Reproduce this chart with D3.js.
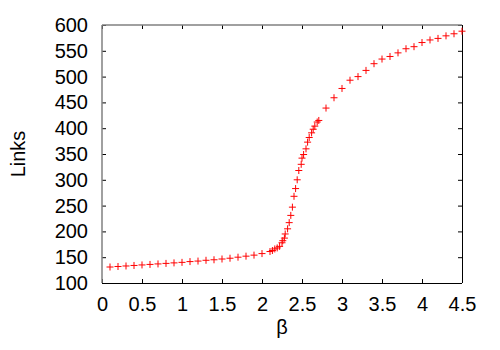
<!DOCTYPE html>
<html>
<head>
<meta charset="utf-8">
<script src="https://cdn.jsdelivr.net/npm/d3@7"></script>
<style>
  body { margin: 0; background: #fff; }
  svg { display: block; }
  text { font-family: "Liberation Sans", Arial, sans-serif; fill: #000; }
</style>
</head>
<body>
<svg width="500" height="350"></svg>
<script>
// beta values and link counts
const beta = [
    0.1, 0.2, 0.3, 0.4, 0.5, 0.6, 0.7, 0.8, 0.9, 1.0,
    1.1, 1.2, 1.3, 1.4, 1.5, 1.6, 1.7, 1.8, 1.9, 2.0,
    2.10, 2.13, 2.16, 2.19, 2.22, 2.25, 2.26, 2.28, 2.29, 2.32,
    2.34, 2.36, 2.38, 2.40, 2.42, 2.44, 2.46, 2.49, 2.50, 2.52,
    2.55, 2.57, 2.59, 2.62, 2.64, 2.66, 2.69, 2.71,
    2.8, 2.9, 3.0, 3.1, 3.2, 3.3, 3.4, 3.5, 3.6, 3.7,
    3.8, 3.9, 4.0, 4.1, 4.2, 4.3, 4.4, 4.5
];
const links = [
    131, 132, 133, 134, 135, 136, 137, 138, 139, 140,
    141.5, 142.5, 144, 145, 146.5, 148, 150, 152, 154, 157,
    161, 163, 166, 168, 171, 178, 182, 187, 195, 205,
    217, 231, 247, 268, 283, 300, 318, 330, 342, 349,
    360, 373, 382, 391, 398, 404, 412, 415,
    439, 459, 477, 493, 500, 512, 525, 534, 539, 546,
    554, 558, 566, 571, 574, 579, 583, 588
];
const xTicks = [0, 0.5, 1, 1.5, 2, 2.5, 3, 3.5, 4, 4.5];
const yTicks = [100, 150, 200, 250, 300, 350, 400, 450, 500, 550, 600];

const svg = d3.select("svg");
const mLeft = 102, mRight = 462, mTop = 25, mBottom = 283;

const x = d3.scaleLinear().domain([0, 4.5]).range([mLeft, mRight]);
const y = d3.scaleLinear().domain([100, 600]).range([mBottom, mTop]);

// ticks on all four sides, pointing inward
const axes = svg.append("g");
axes.append("g")
    .attr("transform", `translate(0,${mBottom})`)
    .call(d3.axisBottom(x).tickValues(xTicks).tickSizeInner(-4).tickSizeOuter(0).tickPadding(14).tickFormat(d3.format("")));
axes.append("g")
    .attr("transform", `translate(0,${mTop})`)
    .call(d3.axisTop(x).tickValues(xTicks).tickSizeInner(-4).tickSizeOuter(0).tickFormat(""));
axes.append("g")
    .attr("transform", `translate(${mLeft},0)`)
    .call(d3.axisLeft(y).tickValues(yTicks).tickSizeInner(-4).tickSizeOuter(0).tickPadding(14));
axes.append("g")
    .attr("transform", `translate(${mRight},0)`)
    .call(d3.axisRight(y).tickValues(yTicks).tickSizeInner(-4).tickSizeOuter(0).tickFormat(""));

axes.selectAll(".domain").remove();
axes.selectAll(".tick line").attr("stroke", "#000");
axes.selectAll(".tick text")
    .style("font-family", "Liberation Sans, Arial, sans-serif")
    .style("font-size", "20px")
    .attr("fill", "#000");

// border: top/left grey, bottom/right black
svg.append("line").attr("x1", mLeft).attr("x2", mRight).attr("y1", mTop).attr("y2", mTop)
    .attr("stroke", "#808080").attr("stroke-width", 1.5);
svg.append("line").attr("x1", mLeft).attr("x2", mLeft).attr("y1", mTop).attr("y2", mBottom)
    .attr("stroke", "#808080").attr("stroke-width", 1.5);
svg.append("line").attr("x1", mLeft).attr("x2", mRight).attr("y1", mBottom + 0.5).attr("y2", mBottom + 0.5)
    .attr("stroke", "#000");
svg.append("line").attr("x1", mRight + 0.5).attr("x2", mRight + 0.5).attr("y1", mTop).attr("y2", mBottom)
    .attr("stroke", "#000");

// plus markers
const pts = beta.map((b, i) => ({b: b, v: links[i]}));
svg.append("g")
    .selectAll("path")
    .data(pts)
    .enter().append("path")
    .attr("d", d => {
        const cx = x(d.b), cy = y(d.v), s = 3.5;
        return `M${cx - s},${cy}H${cx + s}M${cx},${cy - s}V${cy + s}`;
    })
    .attr("stroke", "#ff0000")
    .attr("stroke-width", 1)
    .attr("fill", "none");

// axis titles
svg.append("text")
    .attr("x", (mLeft + mRight) / 2)
    .attr("y", 334)
    .attr("text-anchor", "middle")
    .style("font-size", "20px")
    .text("β");
svg.append("text")
    .attr("transform", `translate(25,${(mTop + mBottom) / 2}) rotate(-90)`)
    .attr("text-anchor", "middle")
    .style("font-size", "20px")
    .text("Links");
</script>
</body>
</html>
